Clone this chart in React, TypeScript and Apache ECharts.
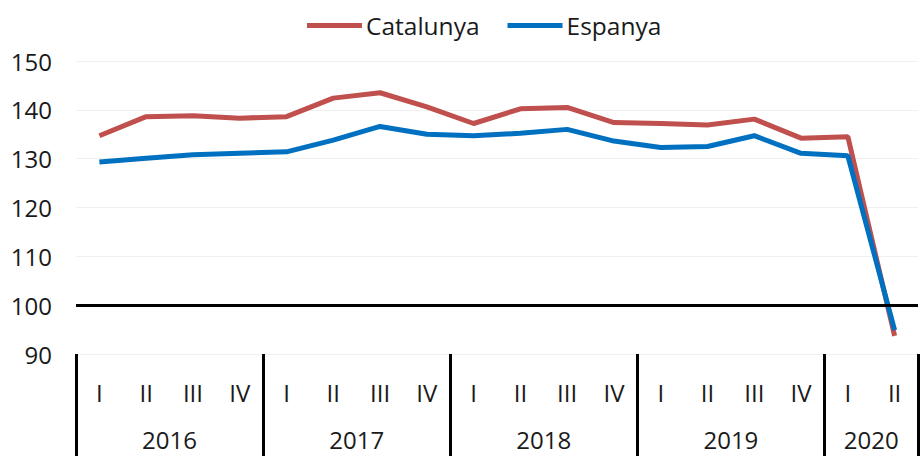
import React, { useEffect, useRef } from "react";
import * as echarts from "echarts";

const quarterNames = ["I", "II", "III", "IV"];
const years = ["2016", "2017", "2018", "2019", "2020"];
const quartersPerYear = [4, 4, 4, 4, 2];

const catalunya = [
  134.7, 138.6, 138.8, 138.3, 138.6, 142.4, 143.5, 140.6, 137.2,
  140.2, 140.5, 137.4, 137.2, 136.9, 138.1, 134.2, 134.5, 93.7,
];
const espanya = [
  129.3, 130.1, 130.8, 131.1, 131.4, 133.8, 136.6, 135.0, 134.7,
  135.2, 136.0, 133.6, 132.3, 132.5, 134.7, 131.1, 130.6, 94.9,
];

const yTicks = { min: 90, max: 150, step: 10 };
const referenceLevel = 100;

const FONT = "'Open Sans', sans-serif";
const TEXT = "#1a1a1a";

export default function App() {
  const ref = useRef<HTMLDivElement>(null);

  useEffect(() => {
    if (!ref.current) return;
    const chart = echarts.init(ref.current, null, { renderer: "svg" });

    const categories: string[] = [];
    const boundaries: number[] = [0];
    const centers: Record<number, string> = {};
    let acc = 0;
    years.forEach((y, i) => {
      const n = quartersPerYear[i];
      for (let q = 0; q < n; q++) categories.push(quarterNames[q] + " " + y);
      centers[acc + n / 2] = y;
      acc += n;
      boundaries.push(acc);
    });
    const total = categories.length;

    chart.setOption({
      animation: false,
      backgroundColor: "#fff",
      textStyle: { fontFamily: FONT },
      legend: {
        left: 302,
        top: 8,
        itemWidth: 55,
        itemHeight: 5,
        itemGap: 28,
        icon: "rect",
        textStyle: { fontFamily: FONT, fontSize: 24.5, color: TEXT, padding: [0, 0, 0, -1] },
        data: ["Catalunya", "Espanya"],
      },
      grid: { left: 76, right: -5, top: 61, bottom: 102 },
      xAxis: [
        {
          type: "category",
          data: categories,
          boundaryGap: true,
          axisLine: { show: false },
          axisTick: {
            show: true,
            length: 105,
            interval: (index: number) => boundaries.indexOf(index) >= 0,
            lineStyle: { color: "#000", width: 3 },
          },
          axisLabel: {
            interval: 0,
            margin: 26,
            fontFamily: FONT,
            fontSize: 24,
            color: TEXT,
            formatter: (v: string) => v.split(" ")[0],
          },
          splitLine: { show: false },
        },
        {
          type: "value",
          position: "bottom",
          min: 0,
          max: total,
          interval: 1,
          axisLine: { show: false },
          axisTick: { show: false },
          splitLine: { show: false },
          axisLabel: {
            margin: 73,
            fontFamily: FONT,
            fontSize: 24,
            color: TEXT,
            showMinLabel: true,
            showMaxLabel: true,
            formatter: (v: number) => centers[v] ?? "",
          },
        },
      ],
      yAxis: {
        type: "value",
        min: yTicks.min,
        max: yTicks.max,
        interval: yTicks.step,
        axisLine: { show: false },
        axisTick: { show: false },
        axisLabel: {
          margin: 24,
          fontFamily: FONT,
          fontSize: 24,
          color: TEXT,
        },
        splitLine: { lineStyle: { color: "#f0f0f0", width: 1 } },
      },
      series: [
        {
          name: "Catalunya",
          type: "line",
          data: catalunya,
          symbol: "none",
          color: "#C0504D",
          lineStyle: { width: 5, color: "#C0504D" },
          markLine: {
            silent: true,
            symbol: "none",
            label: { show: false },
            lineStyle: { color: "#000", width: 3, type: "solid" },
            data: [{ yAxis: referenceLevel }],
          },
          z: 3,
        },
        {
          name: "Espanya",
          type: "line",
          data: espanya,
          symbol: "none",
          color: "#0070C0",
          lineStyle: { width: 5, color: "#0070C0" },
          z: 4,
        },
      ],
    });

    return () => chart.dispose();
  }, []);

  return (
    <div
      ref={ref}
      style={{ position: "fixed", left: 0, top: 0, width: 921, height: 456 }}
    />
  );
}
